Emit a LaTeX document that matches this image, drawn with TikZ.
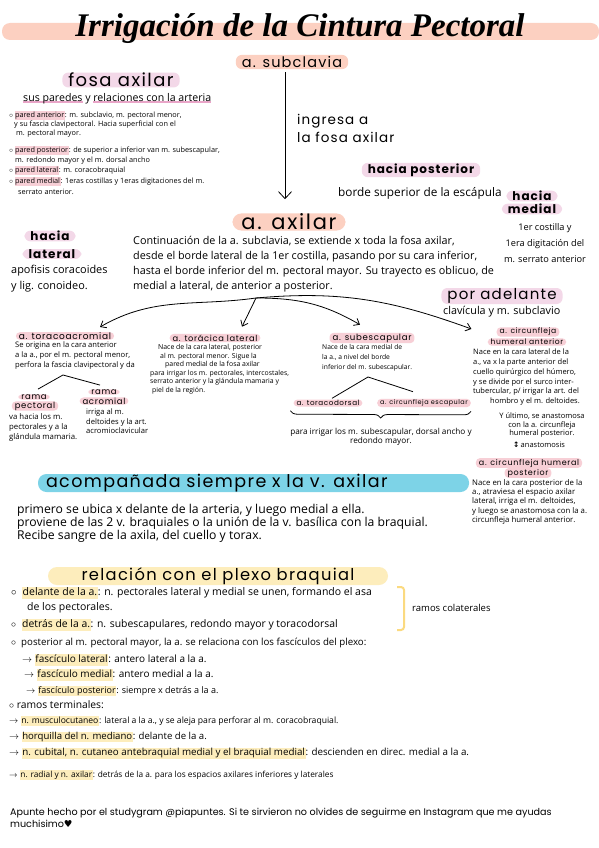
\documentclass[tikz,border=0pt]{standalone}
\usepackage{fontspec}
\setmainfont{Open Sans}
\newfontfamily\manofont[LetterSpace=8.0]{Poppins}
\newfontfamily\piefont{Poppins}
\newfontfamily\titfont{Liberation Serif}
\newfontfamily\simbfont{DejaVu Sans}
\usetikzlibrary{arrows.meta,decorations.pathreplacing}

\definecolor{salmon}{RGB}{252,208,193}
\definecolor{rosa}{RGB}{247,207,214}
\definecolor{lila}{RGB}{243,216,232}
\definecolor{celeste}{RGB}{125,211,231}
\definecolor{amarillo}{RGB}{253,237,188}
\definecolor{amarillofuerte}{RGB}{251,218,128}
\definecolor{rosasub}{RGB}{233,165,200}

\newcommand\fs[2]{\fontsize{#1}{#2}\selectfont}
\newcommand\hlr[1]{{\setlength\fboxsep{0.6pt}\colorbox{rosa}{\vphantom{Ag}#1}}}
\newcommand\hla[1]{{\setlength\fboxsep{0.6pt}\colorbox{amarillo}{\vphantom{Ag}#1}}}
\newcommand\subr[1]{\setbox0\hbox{#1}\rlap{\color{rosasub}\rule[-1.6pt]{\wd0}{2pt}}\box0\relax}

\begin{document}
\begin{tikzpicture}[x=1pt, y=-1pt,
    pill/.style={fill=#1, rounded corners=6pt, inner xsep=6pt, inner ysep=1.5pt},
    pill/.default=rosa,
    cab/.style={font=\manofont\fs{#1}{#1}},
    etiq/.style={fill=rosa, rounded corners=4pt, inner xsep=3pt, inner ysep=0.8pt, font=\manofont\fs{#1}{#1}},
    texto/.style={inner sep=0pt, align=left, anchor=north west},
    flecha/.style={thick, -{Straight Barb[length=5pt,width=8pt]}}]

    % Fondo y titulo
    \fill[white] (0,0) rectangle (599,848);
    \useasboundingbox (0,0) rectangle (599,848);
    \fill[salmon, rounded corners=8pt] (2,23) rectangle (599,40);
    \node (titulo) at (300,29) {\titfont\bfseries\itshape\fs{33}{34}Irrigación de la Cintura Pectoral};

    % a. subclavia -> a. axilar
    \node[pill=salmon, cab=14.5] (subclavia) at (292,62) {a. subclavia};
    \node[pill=salmon, cab=21, inner xsep=9pt, inner ysep=0.5pt, rounded corners=9pt] (axilar) at (289,222) {a. axilar};
    \draw[thick, -{Straight Barb[length=7pt,width=13pt]}] ([xshift=-7pt,yshift=-3pt]subclavia.south) -- ([xshift=-4pt,yshift=14pt]axilar.north);
    \node[texto, font=\manofont\fs{13.5}{18}] (ingresa) at (297,114) {ingresa a\\la fosa axilar};

    % Fosa axilar y paredes
    \node[pill=lila, cab=18, inner ysep=0.5pt] (fosa) at (121,80) {fosa axilar};
    \node[anchor=west, inner sep=0pt, font=\fs{10.6}{11}] (suspared) at (23,99) {\subr{sus paredes} y \subr{relaciones con la arteria}};
    \node[texto, font=\fs{7.3}{9.3}] (pant) at (9,111) {$\circ$\,\hlr{pared anterior}: m. subclavio, m. pectoral menor,\\\hspace*{5pt}y su fascia clavipectoral. Hacia superficial con el\\\hspace*{7pt}m. pectoral mayor.};
    \node[texto, font=\fs{7.3}{10}] (ppost) at (9,146) {$\circ$\,\hlr{pared posterior}: de superior a inferior van m. subescapular,\\\hspace*{6pt}m. redondo mayor y el m. dorsal ancho};
    \node[texto, font=\fs{7.3}{10}] (plat) at (9,166) {$\circ$\,\hlr{pared lateral}: m. coracobraquial};
    \node[texto, font=\fs{7.3}{11}] (pmed) at (9,177) {$\circ$\,\hlr{pared medial}: 1eras costillas y 1eras digitaciones del m.\\\hspace*{9pt}serrato anterior.};

    % Limites
    \node[pill=lila, font=\manofont\bfseries\fs{12}{12}, inner ysep=0.8pt] (posterior) at (421,170) {hacia posterior};
    \node[anchor=west, inner sep=0pt, font=\fs{11.8}{12}] (borde) at (338,193) {borde superior de la escápula};
    \node[pill=lila, font=\manofont\bfseries\fs{12}{12}, inner ysep=0.5pt] (medialA) at (532,196) {hacia};
    \node[pill=lila, font=\manofont\bfseries\fs{12}{12}, inner ysep=0.5pt] (medialB) at (532,209) {medial};
    \node[anchor=north, inner sep=0pt, align=center, font=\fs{9.2}{16}] (costilla) at (545,223) {1er costilla y\\1era digitación del\\m. serrato anterior};
    \node[pill=lila, font=\manofont\bfseries\fs{12}{12}, inner ysep=0.5pt] (lateralA) at (50,236) {hacia};
    \node[pill=lila, font=\manofont\bfseries\fs{12}{12}, inner ysep=0.5pt] (lateralB) at (52,254) {lateral};
    \node[texto, font=\fs{10.9}{16}] (apofisis) at (11,265) {apofisis coracoides\\y lig. conoideo.};
    \node[texto, font=\fs{10.8}{15}] (continua) at (133,236) {Continuación de la a. subclavia, se extiende x toda la fosa axilar,\\desde el borde lateral de la 1er costilla, pasando por su cara inferior,\\hasta el borde inferior del m. pectoral mayor. Su trayecto es oblicuo, de\\medial a lateral, de anterior a posterior.};
    \node[pill=lila, cab=15, inner ysep=0.5pt] (adelante) at (502,296) {por adelante};
    \node[anchor=west, inner sep=0pt, font=\fs{10.8}{11}] (clavicula) at (443,312) {clavícula y m. subclavio};

    % Ramas
    \coordinate (division) at (256,298);
    \node[etiq=9, inner ysep=0.3pt] (toraco) at (65,336) {a. toracoacromial};
    \node[texto, font=\fs{7.6}{10}] (toracotxt) at (15,342) {Se origina en la cara anterior\\a la a., por el m. pectoral menor,\\perfora la fascia clavipectoral y da};
    \node[etiq=8.3] (toracica) at (215,338) {a. torácica lateral};
    \node[texto, font=\fs{6.9}{8.6}] (toracicatxt) at (150,344) {\hspace*{8pt}Nace de la cara lateral, posterior\\\hspace*{10pt}al m. pectoral menor. Sigue la\\\hspace*{15pt}pared medial de la fosa axilar\\para irrigar los m. pectorales, intercostales,\\serrato anterior y la glándula mamaria y\\\hspace*{2pt}piel de la región.};
    \node[etiq=8.6] (subesc) at (372,338) {a. subescapular};
    \node[texto, font=\fs{6.7}{10}] (subesctxt) at (322,344) {Nace de la cara medial de\\la a., a nivel del borde\\inferior del m. subescapular.};
    \node[etiq=7.6] (circantA) at (528,332) {a. circunfleja};
    \node[etiq=7.6] (circantB) at (527,342) {humeral anterior};
    \node[texto, font=\fs{7.5}{9.7}] (circanttxt) at (473,349) {Nace en la cara lateral de la\\a., va x la parte anterior del\\cuello quirúrgico del húmero,\\y se divide por el surco inter-\\tubercular, p/ irrigar la art. del\\\hspace*{17pt}hombro y el m. deltoides.};
    \node[anchor=north, inner sep=0pt, align=center, font=\fs{7.5}{8.3}] (ultimo) at (542,413) {Y último, se anastomosa\\con la a. circunfleja\\humeral posterior.};
    \node[anchor=west, inner sep=0pt, font=\fs{7.5}{8}] (anast) at (513,445) {{\simbfont\bfseries ↕}\,anastomosis};
    \node[etiq=8] (circpostA) at (529,463) {a. circunfleja humeral};
    \node[etiq=8] (circpostB) at (528,473) {posterior};
    \node[texto, font=\fs{7.8}{9.3}] (circposttxt) at (472,479) {Nace en la cara posterior de la\\a., atraviesa el espacio axilar\\lateral, irriga el m. deltoides,\\y luego se anastomosa con la a.\\circunfleja humeral anterior.};

    \draw[flecha] (division) to[out=188,in=30] ([xshift=35pt,yshift=5pt]toraco.north);
    \draw[flecha] (division) -- ([xshift=27pt,yshift=7pt]toracica.north);
    \draw[flecha] (division) to[out=0,in=150] ([xshift=-12pt,yshift=8pt]subesc.north);
    \draw[flecha] (division) to[out=5,in=160] ([xshift=-25pt,yshift=3pt]circantA.west);

    % Ramas de la a. toracoacromial
    \node[etiq=8.5, inner ysep=0.3pt] (ramapecA) at (34,397) {rama};
    \node[etiq=8.5, inner ysep=0.3pt] (ramapecB) at (35,406) {pectoral};
    \node[etiq=8.5, inner ysep=0.3pt] (ramaacrA) at (104,392) {rama};
    \node[etiq=8.5, inner ysep=0.3pt] (ramaacrB) at (104,401) {acromial};
    \coordinate (picoT) at (63,375);
    \draw[thick] ([xshift=4pt,yshift=5pt]ramapecA.north) -- (picoT) -- ([xshift=-4pt,yshift=4pt]ramaacrA.north);
    \node[texto, font=\fs{7.8}{10}] (ramapectxt) at (9,413) {va hacia los m.\\pectorales y a la\\glándula mamaria.};
    \node[texto, font=\fs{7.6}{9.5}] (ramaacrtxt) at (86,409) {irriga al m.\\deltoides y la art.\\acromioclavicular};

    % Ramas de la a. subescapular
    \node[etiq=7.2] (torcdor) at (328,403) {a. toracodorsal};
    \node[etiq=6.5] (circesc) at (424,403) {a. circunfleja escapular};
    \coordinate (picoS) at (368,377);
    \draw[thick] ([xshift=4pt,yshift=1pt]torcdor.north) -- (picoS) -- ([xshift=-11pt,yshift=7pt]circesc.north);
    \draw[thick, decorate, decoration={brace, mirror, amplitude=7pt}] ([xshift=-3pt,yshift=-4pt]torcdor.south west) -- ([yshift=-4pt]circesc.south east);
    \node[anchor=north, inner sep=0pt, align=center, font=\fs{8.2}{8.7}] (irrigar) at (381,428) {para irrigar los m. subescapular, dorsal ancho y\\redondo mayor.};

    % Vena axilar
    \node[fill=celeste, rounded corners=8.5pt, minimum height=18pt, inner xsep=8pt, inner ysep=0pt, text width=415pt, align=left, cab=17.5] (vena) at (253.5,483) {acompañada siempre x la v. axilar};
    \node[texto, font=\fs{12.2}{12.8}] (venatxt) at (17,504) {primero se ubica x delante de la arteria, y luego medial a ella.\\proviene de las 2 v. braquiales o la unión de la v. basílica con la braquial.\\Recibe sangre de la axila, del cuello y torax.};

    % Plexo braquial
    \node[fill=amarillo, rounded corners=9pt, minimum width=340pt, minimum height=18pt, inner ysep=0pt, cab=16.3] (plexo) at (218,576) {relación con el plexo braquial};
    \node[texto, font=\fs{10.5}{15}] (pdel) at (11,587) {$\circ$\ \ \hla{delante de la a.}: n. pectorales lateral y medial se unen, formando el asa\\\hspace*{16pt}de los pectorales.};
    \node[anchor=west, inner sep=0pt, font=\fs{10.4}{10}] (pdet) at (11,625) {$\circ$\ \ \hla{detrás de la a.}: n. subescapulares, redondo mayor y toracodorsal};
    \node[anchor=west, inner sep=0pt, font=\fs{9.7}{10}] (ppos) at (11,643) {$\circ$\ \ posterior al m. pectoral mayor, la a. se relaciona con los fascículos del plexo:};
    \node[anchor=west, inner sep=0pt, font=\fs{9.5}{10}] (ramcol) at (412,608) {ramos colaterales};
    \draw[amarillofuerte, line width=2pt, rounded corners=3pt] ([xshift=-15pt,yshift=21pt]ramcol.west) -- ++(7,0) -- ++(0,43) -- ++(-7,0);
    \node[anchor=west, inner sep=0pt, font=\fs{10}{10}] (flat) at (22,660) {$\rightarrow$ \hla{fascículo lateral}: antero lateral a la a.};
    \node[anchor=west, inner sep=0pt, font=\fs{10}{10}] (fmed) at (24,675) {$\rightarrow$ \hla{fascículo medial}: antero medial a la a.};
    \node[anchor=west, inner sep=0pt, font=\fs{9}{10}] (fpos) at (26,691) {$\rightarrow$ \hla{fascículo posterior}: siempre x detrás a la a.};
    \node[anchor=west, inner sep=0pt, font=\fs{10.3}{10}] (rterm) at (9,705) {$\circ$ ramos terminales:};
    \node[anchor=west, inner sep=0pt, font=\fs{8.6}{10}] (nmusc) at (9,721) {$\rightarrow$ \hla{n. musculocutaneo}: lateral a la a., y se aleja para perforar al m. coracobraquial.};
    \node[anchor=west, inner sep=0pt, font=\fs{9.6}{10}] (nhorq) at (9,737) {$\rightarrow$ \hla{horquilla del n. mediano}: delante de la a.};
    \node[anchor=west, inner sep=0pt, font=\fs{9.8}{10}] (ncub) at (9,753) {$\rightarrow$ \hla{n. cubital, n. cutaneo antebraquial medial y el braquial medial}: descienden en direc. medial a la a.};
    \node[anchor=west, inner sep=0pt, font=\fs{8.3}{10}] (nrad) at (9,775) {$\rightarrow$ \hla{n. radial y n. axilar}: detrás de la a. para los espacios axilares inferiores y laterales};

    % Pie
    \node[texto, font=\piefont\fs{9.6}{12}] (pie) at (10,808) {Apunte hecho por el studygram @piapuntes. Si te sirvieron no olvides de seguirme en Instagram que me ayudas\\muchisimo{\simbfont ♥}};
\end{tikzpicture}
\end{document}
